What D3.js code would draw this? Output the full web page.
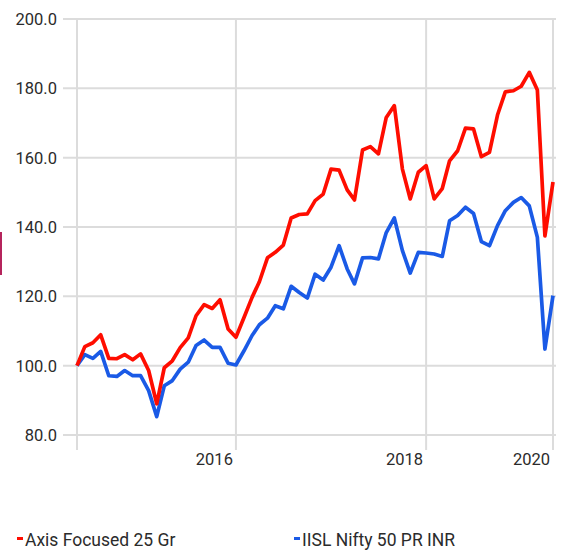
<!DOCTYPE html>
<html>
<head>
<meta charset="utf-8">
<script src="https://cdn.jsdelivr.net/npm/d3@7"></script>
<style>
  body { margin: 0; background: #fff; }
  svg { display: block; }
  text { font-family: Roboto, "Liberation Sans", sans-serif; fill: #2b2b2b; }
</style>
</head>
<body>
<svg id="chart"></svg>
<script>
const width = 562;
const height = 550;

// monthly growth of 100, Apr 2015 .. Apr 2020
const months = d3.timeMonth.range(new Date(2015, 3, 1), new Date(2020, 4, 1));

const fundValues = [100, 105.5, 106.6, 108.9, 102.1, 102.0, 103.2, 101.7, 103.4, 98.6,
  89.0, 99.4, 101.4, 105.2, 108.0, 114.4, 117.6, 116.5, 119.0, 110.6,
  108.2, 113.9, 119.7, 124.2, 131.1, 132.7, 134.8, 142.6, 143.6, 143.8,
  147.6, 149.5, 156.7, 156.4, 150.7, 147.8, 162.2, 163.2, 161.1, 171.6,
  175.0, 156.7, 148.1, 155.8, 157.7, 148.1, 151.1, 159.1, 162.0, 168.5,
  168.3, 160.3, 161.5, 172.3, 179.0, 179.3, 180.6, 184.6, 179.5, 137.4, 153.0];

const indexValues = [100, 103.2, 102.1, 104.1, 97.1, 96.9, 98.6, 97.1, 97.1, 92.8,
  85.3, 94.2, 95.7, 99.0, 101.0, 105.8, 107.4, 105.3, 105.3, 100.7,
  100.2, 104.3, 108.7, 111.8, 113.7, 117.3, 116.4, 122.9, 121.1, 119.5,
  126.4, 124.7, 128.4, 134.6, 127.9, 123.6, 131.1, 131.2, 130.8, 138.4,
  142.6, 133.2, 126.7, 132.7, 132.5, 132.2, 131.5, 141.8, 143.3, 145.7,
  143.9, 135.8, 134.6, 140.4, 144.7, 147.1, 148.5, 146.1, 137.0, 104.8, 120.2];

const seriesNames = ["Axis Focused 25 Gr", "IISL Nifty 50 PR INR"];
const seriesColors = ["#ff0d00", "#1a5ae6"];
const yTicks = [80, 100, 120, 140, 160, 180, 200];
const xTicks = [new Date(2016, 11, 1), new Date(2018, 11, 1), new Date(2020, 3, 1)];

const svg = d3.select("#chart").attr("width", width).attr("height", height);

const x = d3.scaleTime()
  .domain([months[0], months[months.length - 1]])
  .range([77, 553]);

const y = d3.scaleLinear()
  .domain([80, 200])
  .range([435, 19]);

// small marker at the left edge
svg.append("rect")
  .attr("x", 0).attr("y", 232)
  .attr("width", 2).attr("height", 43)
  .attr("fill", "#b5245c");

// horizontal grid + y labels
svg.append("g")
  .selectAll("line")
  .data(yTicks)
  .join("line")
  .attr("x1", 63).attr("x2", 556)
  .attr("y1", d => y(d)).attr("y2", d => y(d))
  .attr("stroke", "#dcdcdc")
  .attr("stroke-width", 2);

svg.append("g")
  .selectAll("text")
  .data(yTicks)
  .join("text")
  .attr("x", 57)
  .attr("y", d => y(d))
  .attr("dy", "0.36em")
  .attr("text-anchor", "end")
  .style("font-size", "16.5px")
  .text(d3.format(".1f"));

// vertical grid lines
svg.append("g")
  .selectAll("line")
  .data([months[0]].concat(xTicks))
  .join("line")
  .attr("x1", d => x(d)).attr("x2", d => x(d))
  .attr("y1", 19).attr("y2", 450)
  .attr("stroke", "#dcdcdc")
  .attr("stroke-width", 2);

svg.append("g")
  .selectAll("text")
  .data(xTicks)
  .join("text")
  .attr("x", d => x(d) - 3)
  .attr("y", 465)
  .attr("text-anchor", "end")
  .style("font-size", "16.5px")
  .text(d3.timeFormat("%Y"));

const line = d3.line()
  .x((d, i) => x(months[i]))
  .y(d => y(d));

svg.append("path")
  .datum(indexValues)
  .attr("d", line)
  .attr("fill", "none")
  .attr("stroke", seriesColors[1])
  .attr("stroke-width", 3.7)
  .attr("stroke-linejoin", "round");

svg.append("path")
  .datum(fundValues)
  .attr("d", line)
  .attr("fill", "none")
  .attr("stroke", seriesColors[0])
  .attr("stroke-width", 3.7)
  .attr("stroke-linejoin", "round");

// legend
const legendX = [17, 294];
const legend = svg.append("g")
  .selectAll("g")
  .data(seriesNames)
  .join("g")
  .attr("transform", (d, i) => `translate(${legendX[i]},540)`);

legend.append("rect")
  .attr("x", 0).attr("y", -3)
  .attr("width", 6).attr("height", 3)
  .attr("fill", (d, i) => seriesColors[i]);

legend.append("text")
  .attr("x", 8)
  .attr("y", 0)
  .attr("dy", "0.36em")
  .style("font-size", "17.5px")
  .text(d => d);
</script>
</body>
</html>
